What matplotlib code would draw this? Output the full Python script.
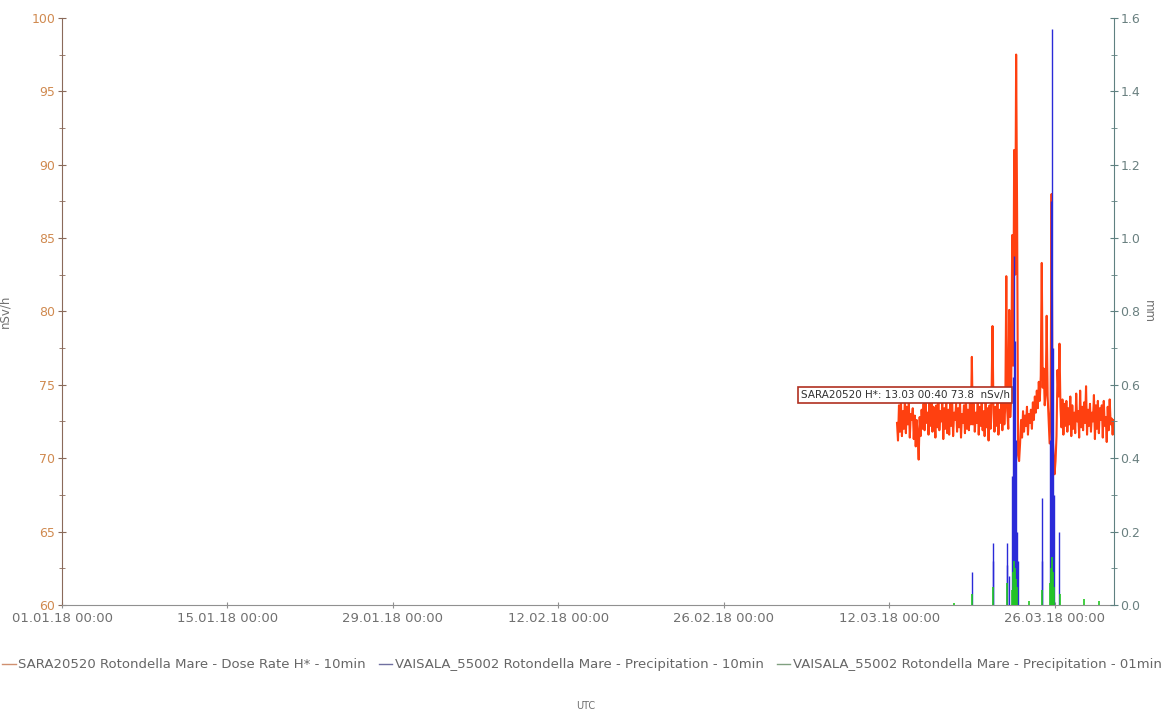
import matplotlib
matplotlib.use("Agg")
import matplotlib.pyplot as plt
import matplotlib.dates as mdates
from matplotlib.ticker import MultipleLocator, FormatStrFormatter
import numpy as np
import pandas as pd

# dose rate H* (nSv/h), 2-hourly readings from 12.03.18 16:00 to 31.03.18 00:00
dose_start = "2018-03-12 16:00"
dose_values = [
    72.4, 71.2, 73.6, 71.8,                                                  # 12.03
    73.9, 71.5, 73.2, 72.0, 74.1, 71.7, 73.5, 72.3, 73.8, 71.4, 73.0, 72.6,  # 13.03
    73.4, 71.3, 72.9, 70.8, 72.6, 71.6, 69.9, 72.8, 71.5, 73.3, 72.0, 73.7,  # 14.03
    71.9, 74.0, 72.4, 73.1, 71.6, 73.8, 72.2, 74.2, 71.8, 73.5, 72.7, 71.4,  # 15.03
    73.6, 72.1, 74.3, 71.9, 73.2, 72.5, 73.9, 71.3, 73.4, 72.0, 74.1, 71.7,  # 16.03
    73.3, 71.6, 73.8, 72.2, 74.0, 71.5, 73.1, 72.6, 73.7, 71.8, 73.4, 72.1,  # 17.03
    73.9, 71.4, 73.0, 72.4, 73.6, 71.7, 74.2, 72.0, 73.3, 71.9, 73.8, 72.3,  # 18.03
    76.9, 72.3, 73.7, 71.8, 73.1, 72.4, 74.0, 71.6, 73.5, 72.2, 73.8, 71.9,  # 19.03
    73.2, 71.5, 73.9, 72.1, 73.4, 71.2, 73.6, 72.0, 74.2, 79.0, 73.0, 71.8,  # 20.03
    73.5, 72.2, 74.0, 71.6, 73.3, 72.4, 73.8, 71.9, 74.1, 72.3, 73.6, 82.4,  # 21.03
    73.2, 72.0, 80.1, 72.8, 74.5, 85.2, 76.3, 91.0, 82.5, 97.5, 86.4, 70.2,  # 22.03
    69.8, 71.0, 72.6, 71.4, 73.2, 71.8, 72.9, 72.2, 73.5, 71.6, 73.0, 72.4,  # 23.03
    73.3, 72.0, 73.8, 72.6, 74.2, 73.1, 74.6, 73.4, 75.2, 73.9, 75.6, 83.3,  # 24.03
    74.8, 76.1, 73.6, 74.4, 79.7, 74.2, 72.6, 71.0, 73.4, 88.0, 71.5, 70.3,  # 25.03
    68.9, 69.8, 71.5, 76.0, 74.2, 77.8, 73.5, 72.1, 74.0, 71.6, 73.7, 72.2,  # 26.03
    73.9, 71.8, 73.4, 72.3, 74.2, 71.5, 73.6, 72.0, 73.1, 71.7, 74.4, 72.5,  # 27.03
    73.2, 71.4, 74.6, 72.1, 73.5, 71.9, 73.8, 72.4, 74.9, 71.6, 73.3, 72.2,  # 28.03
    73.7, 71.8, 73.1, 72.5, 74.3, 71.3, 73.6, 72.0, 73.9, 71.7, 73.4, 72.6,  # 29.03
    73.6, 71.4, 73.9, 72.2, 72.8, 71.1, 73.5, 71.9, 74.0, 72.3, 72.7, 71.6,  # 30.03
    72.6,                                                                    # 31.03
]

# precipitation (mm), only non-zero readings
prec10_times = [
    "2018-03-19 00:10", "2018-03-20 18:00", "2018-03-20 18:20", "2018-03-21 22:40",
    "2018-03-21 23:00", "2018-03-22 04:00", "2018-03-22 10:00", "2018-03-22 12:00",
    "2018-03-22 14:00", "2018-03-22 16:00", "2018-03-22 18:00", "2018-03-22 20:00",
    "2018-03-22 22:00", "2018-03-24 22:00", "2018-03-24 23:00", "2018-03-25 14:00",
    "2018-03-25 16:00", "2018-03-25 18:00", "2018-03-25 20:00", "2018-03-25 22:00",
    "2018-03-26 10:00",
]
prec10_values = [
    0.09, 0.12, 0.17, 0.17,
    0.11, 0.08, 0.35, 0.62,
    0.95, 0.72, 0.45, 0.20,
    0.12, 0.29, 0.12, 0.45,
    1.10, 1.57, 0.70, 0.30,
    0.20,
]
prec01_times = [
    "2018-03-17 12:00", "2018-03-19 00:10", "2018-03-20 18:10", "2018-03-21 22:50",
    "2018-03-22 10:00", "2018-03-22 12:00", "2018-03-22 14:00", "2018-03-22 16:00",
    "2018-03-22 18:00", "2018-03-22 20:00", "2018-03-23 20:00", "2018-03-24 22:00",
    "2018-03-25 14:00", "2018-03-25 16:00", "2018-03-25 18:00", "2018-03-25 20:00",
    "2018-03-25 22:00", "2018-03-26 12:00", "2018-03-28 12:00", "2018-03-29 18:00",
]
prec01_values = [
    0.005, 0.03, 0.05, 0.06,
    0.04, 0.09, 0.12, 0.10,
    0.07, 0.05, 0.01, 0.04,
    0.06, 0.10, 0.13, 0.09,
    0.05, 0.03, 0.015, 0.01,
]

tick_dates = ["2018-01-01", "2018-01-15", "2018-01-29", "2018-02-12",
              "2018-02-26", "2018-03-12", "2018-03-26"]

labels = ["SARA20520 Rotondella Mare - Dose Rate H* - 10min",
          "VAISALA_55002 Rotondella Mare - Precipitation - 10min",
          "VAISALA_55002 Rotondella Mare - Precipitation - 01min"]

c_dose = "#ff4010"
c_p10 = "#2a2ad8"
c_p01 = "#22c822"

dose_times = pd.date_range(dose_start, periods=len(dose_values), freq="2h")

plt.rcParams["font.family"] = "DejaVu Sans"
fig = plt.figure(figsize=(11.71, 7.15), dpi=100)
ax = fig.add_axes([0.053, 0.154, 0.898, 0.821])
ax2 = ax.twinx()

ax.plot(dose_times, dose_values, color=c_dose, lw=1.5)
ax2.vlines(pd.to_datetime(prec10_times), 0, prec10_values, color=c_p10, lw=1.0)
ax2.vlines(pd.to_datetime(prec01_times), 0, prec01_values, color=c_p01, lw=1.2)

ax.set_xlim(pd.Timestamp("2018-01-01"), pd.Timestamp("2018-03-31"))
ax.set_ylim(60, 100)
ax2.set_ylim(0, 1.6)

ax.set_xticks(pd.to_datetime(tick_dates))
ax.xaxis.set_major_formatter(mdates.DateFormatter("%d.%m.%y %H:%M"))
ax.yaxis.set_major_locator(MultipleLocator(5))
ax.yaxis.set_minor_locator(MultipleLocator(2.5))
ax2.yaxis.set_major_locator(MultipleLocator(0.2))
ax2.yaxis.set_minor_locator(MultipleLocator(0.1))
ax2.yaxis.set_major_formatter(FormatStrFormatter("%.1f"))

for a in (ax, ax2):
    a.spines["top"].set_visible(False)
ax.spines["left"].set_color("#8a6a5a")
ax.spines["right"].set_visible(False)
ax.spines["bottom"].set_color("#909090")
ax2.spines["left"].set_visible(False)
ax2.spines["bottom"].set_visible(False)
ax2.spines["right"].set_color("#5f8080")

ax.tick_params(axis="y", which="major", direction="inout", length=6, colors="#8a6a5a",
               labelcolor="#d08a50", labelsize=9, pad=2)
ax.tick_params(axis="y", which="minor", direction="inout", length=5, colors="#8a6a5a")
ax.tick_params(axis="x", direction="inout", length=4, colors="#909090",
               labelcolor="#707070", labelsize=9.5, pad=3)
ax2.tick_params(axis="y", which="major", direction="inout", length=6, colors="#5f8080",
                labelcolor="#6a8080", labelsize=9, pad=2)
ax2.tick_params(axis="y", which="minor", direction="inout", length=5, colors="#5f8080")

ax.set_ylabel("nSv/h", color="#707070", fontsize=8.5, labelpad=14)
ax2.set_ylabel("mm", color="#707070", fontsize=8.5, rotation=270, labelpad=10)

# hover readout box
ax.text(pd.Timestamp("2018-03-22 05:00"), 74.3, "SARA20520 H*: 13.03 00:40 73.8  nSv/h",
        ha="right", va="center", fontsize=7.5, color="#303030", zorder=5,
        bbox=dict(boxstyle="square,pad=0.25", fc="white", ec="#b03020", lw=1.2))

handles = [plt.Line2D([], [], color=c, lw=1) for c in ("#d09070", "#7070a0", "#80a080")]
fig.legend(handles, labels, loc="center", bbox_to_anchor=(0.497, 0.07), ncol=3,
           frameon=False, fontsize=9.5, handlelength=1.0, handletextpad=0.2,
           columnspacing=1.0, labelcolor="#666666")
fig.text(0.5, 0.012, "UTC", ha="center", va="center", fontsize=7, color="#707070")

fig.savefig("out.png", dpi=100)
